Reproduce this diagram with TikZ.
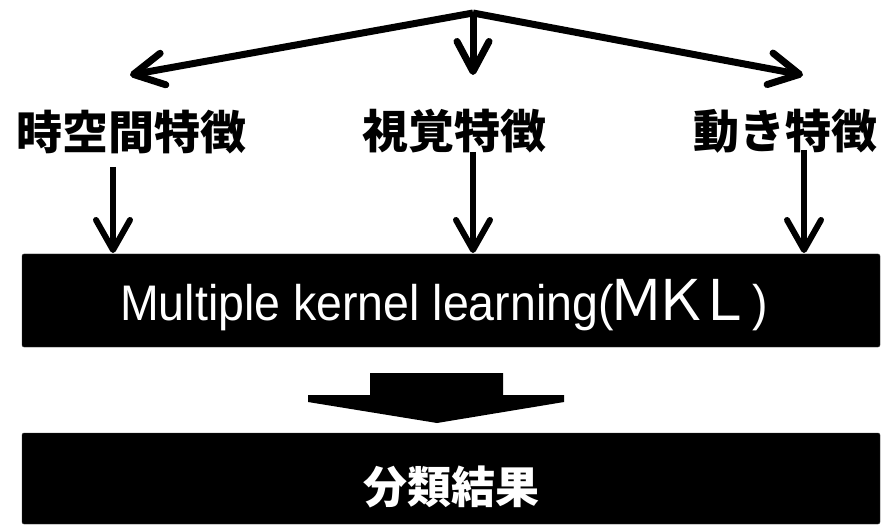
\documentclass[tikz,border=0pt]{standalone}
\usepackage{fontspec}
\usetikzlibrary{arrows.meta}
\newfontfamily\jp{Noto Sans CJK JP}
\newfontfamily\lat{Liberation Sans}[FakeStretch=0.93]
\begin{document}
\begin{tikzpicture}[x=1pt,y=-1pt,
  lbl/.style={font=\jp\bfseries\fontsize{46}{50}\selectfont, inner sep=0pt, text=black},
  blackbox/.style={fill=black, draw=black!80, rounded corners=2pt},
  thinarrow/.style={line width=6pt, -{Straight Barb[length=30pt, width=34pt, round]}},
  toparrow/.style={line width=7pt, -{Straight Barb[length=30pt, width=32pt, round]}}]
\useasboundingbox (0,0) rectangle (882,526);

% boxes
\path[blackbox] (22,254) rectangle (880,347);
\node[inner sep=0pt] (mkl) at (451,300.5) {};
\path[blackbox] (22,433) rectangle (880,524);
\node[inner sep=0pt] (res) at (451,478.5) {};

\node[anchor=base west, text=white, inner sep=0pt] (mkltext) at (120,320)
  {\lat\fontsize{50}{52}\selectfont Multiple kernel learning(\kern-5pt{\jp\fontsize{56}{60}\selectfont Ｍ\kern-12ptＫ\kern-12ptＬ})};
\node[text=white, font=\jp\bfseries\fontsize{44}{48}\selectfont, inner sep=0pt] (restext) at (451,487) {分類結果};

% labels
\node[lbl] (f1) at (131.5,132.5) {時空間特徴};
\node[lbl] (f2) at (454,131) {視覚特徴};
\node[lbl] (f3) at (785,131.5) {動き特徴};

% top distribution arrows
\coordinate (apex) at (473,13);
\coordinate (tl) at (130,75);
\coordinate (tm) at (473,75);
\coordinate (tr) at (803,75);
\draw[toparrow] (apex) -- (tl);
\draw[toparrow] (apex) -- (tm);
\draw[toparrow] (apex) -- (tr);

% arrows into MKL
\coordinate (s1) at (113,167);
\coordinate (s2) at (473,152);
\coordinate (s3) at (804,150);
\coordinate (e1) at (113,253);
\coordinate (e2) at (473,253);
\coordinate (e3) at (804,253);
\draw[thinarrow] (s1) -- (e1);
\draw[thinarrow] (s2) -- (e2);
\draw[thinarrow] (s3) -- (e3);

% block arrow
\fill[black] (370,373) -- (503,373) -- (503,395) -- (564,395) -- (564,402)
  -- (437,423) -- (308,402) -- (308,395) -- (370,395) -- cycle;
\end{tikzpicture}
\end{document}
